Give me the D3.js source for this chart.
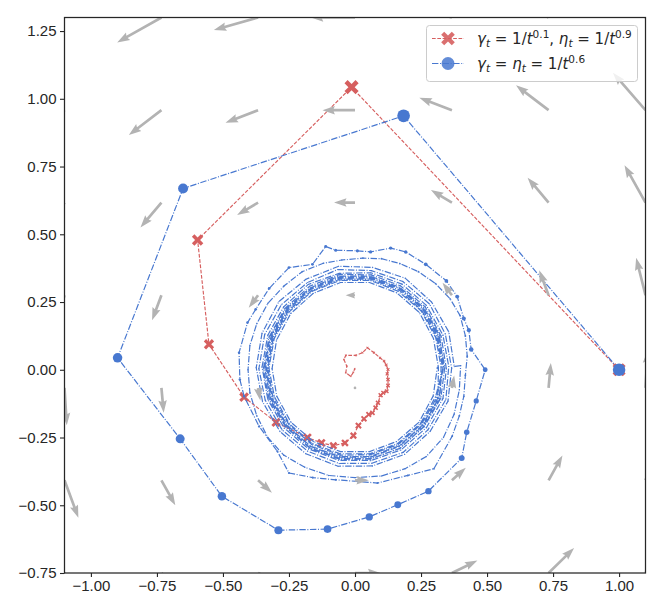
<!DOCTYPE html>
<html>
<head>
<meta charset="utf-8">
<script src="https://cdn.jsdelivr.net/npm/d3@7"></script>
<style>
  body { margin: 0; background: #fff; }
</style>
</head>
<body>
<div id="chart"></div>
<script>
// ---- data ----
var xTicks = [-1.0, -0.75, -0.5, -0.25, 0.0, 0.25, 0.5, 0.75, 1.0];
var yTicks = [-0.75, -0.5, -0.25, 0.0, 0.25, 0.5, 0.75, 1.0, 1.25];

// quiver grid (7x7) and the field vectors at each node
var gridX = [-1.1, -0.733, -0.367, 0.0, 0.367, 0.733, 1.1];
var gridY = [-0.75, -0.408, -0.067, 0.275, 0.617, 0.958, 1.3];
var fieldU = [
  [0.75, 0.75, 0.75, 0.75, 0.75, 0.75, 0.75],
  [0.408, 0.408, 0.408, 0.408, 0.408, 0.408, 0.408],
  [0.067, 0.067, 0.067, 0.067, 0.067, 0.067, 0.067],
  [-0.275, -0.275, -0.275, -0.275, -0.275, -0.275, -0.275],
  [-0.617, -0.617, -0.617, -0.617, -0.617, -0.617, -0.617],
  [-0.958, -0.958, -0.958, -0.958, -0.958, -0.958, -0.958],
  [-1.3, -1.3, -1.3, -1.3, -1.3, -1.3, -1.3]
];
var fieldV = [
  [-1.1, -0.733, -0.367, 0.0, 0.367, 0.733, 1.1],
  [-1.1, -0.733, -0.367, 0.0, 0.367, 0.733, 1.1],
  [-1.1, -0.733, -0.367, 0.0, 0.367, 0.733, 1.1],
  [-1.1, -0.733, -0.367, 0.0, 0.367, 0.733, 1.1],
  [-1.1, -0.733, -0.367, 0.0, 0.367, 0.733, 1.1],
  [-1.1, -0.733, -0.367, 0.0, 0.367, 0.733, 1.1],
  [-1.1, -0.733, -0.367, 0.0, 0.367, 0.733, 1.1]
];

// red run: gamma_t = 1/t^0.1, eta_t = 1/t^0.9
var redX = [1.0, -0.013, -0.596, -0.553, -0.42, -0.299, -0.18, -0.127, -0.082, -0.038,
  -0.006, 0.013, 0.034, 0.052, 0.066, 0.078, 0.087, 0.097, 0.107, 0.12,
  0.125, 0.125, 0.122, 0.125, 0.118, 0.11, 0.095, 0.072, 0.047, 0.028,
  0.003, -0.035, -0.042, -0.031, -0.035, -0.016, -0.006, -0.001];
var redY = [0.0, 1.043, 0.479, 0.094, -0.101, -0.194, -0.25, -0.27, -0.28, -0.27,
  -0.243, -0.206, -0.181, -0.165, -0.159, -0.14, -0.122, -0.094, -0.085, -0.079,
  -0.058, -0.036, -0.015, 0.001, 0.018, 0.032, 0.044, 0.063, 0.081, 0.063,
  0.053, 0.053, 0.038, 0.013, -0.011, -0.024, -0.009, 0.004];

// blue run: gamma_t = eta_t = 1/t^0.6
var blueX = [
  1.0, 0.184, -0.651, -0.899, -0.662, -0.504, -0.29, -0.104, 0.054, 0.162,
  0.278, 0.404, 0.423, 0.459, 0.493, 0.44, 0.431, 0.412, 0.387, 0.346,
  0.268, 0.192, 0.135, 0.059, 0.009, -0.073, -0.111, -0.161, -0.25, -0.325,
  -0.376, -0.407, -0.439, -0.436, -0.42, -0.363, -0.294, -0.25, -0.16, -0.073,
  0.01, 0.085, 0.2, 0.299, 0.368, 0.395, 0.412, 0.418, 0.425, 0.418,
  0.398, 0.36, 0.305, 0.24, 0.17, 0.1, 0.03, -0.05, -0.12, -0.2,
  -0.268, -0.33, -0.372, -0.398, -0.405, -0.398, -0.372, -0.33, -0.27, -0.19,
  -0.1, 0.0, 0.1, 0.19, 0.27, 0.335, 0.375, 0.395, 0.4,
  0.376, 0.355, 0.29, 0.19, 0.066, -0.062, -0.186, -0.288, -0.352, -0.374, -0.35, -0.284, -0.186, -0.064, 0.066, 0.188, 0.284, 0.352,
  0.366, 0.342, 0.282, 0.181, 0.062, -0.065, -0.18, -0.279, -0.342, -0.364, -0.34, -0.276, -0.18, -0.06, 0.064, 0.182, 0.276, 0.344,
  0.355, 0.333, 0.27, 0.178, 0.06, -0.06, -0.177, -0.27, -0.33, -0.352, -0.33, -0.268, -0.176, -0.062, 0.06, 0.174, 0.27, 0.333,
  0.346, 0.326, 0.266, 0.172, 0.062, -0.058, -0.172, -0.265, -0.326, -0.347, -0.325, -0.262, -0.17, -0.058, 0.058, 0.17, 0.262, 0.325,
  0.34, 0.318, 0.258, 0.17, 0.058, -0.06, -0.168, -0.258, -0.318, -0.338, -0.318, -0.258, -0.168, -0.058, 0.058, 0.168, 0.258, 0.318,
  0.332, 0.31, 0.252, 0.166, 0.056, -0.058, -0.164, -0.252, -0.31, -0.33, -0.31, -0.25, -0.164, -0.056, 0.056, 0.164, 0.252, 0.31,
  0.336, 0.32, 0.262, 0.17, 0.06, -0.06, -0.17, -0.262, -0.322, -0.342, -0.32, -0.26, -0.17, -0.06, 0.06, 0.17, 0.26, 0.322,
  0.326, 0.306, 0.25, 0.163, 0.057, -0.056, -0.162, -0.248, -0.306, -0.326, -0.305, -0.248, -0.162, -0.056, 0.056, 0.162, 0.248, 0.305,
  0.334, 0.314, 0.256, 0.168, 0.058, -0.058, -0.168, -0.256, -0.314, -0.334, -0.314, -0.256, -0.168, -0.058, 0.058, 0.168, 0.256, 0.314,
  0.316, 0.297, 0.243, 0.158, 0.055, -0.055, -0.158, -0.243, -0.297, -0.314, -0.296, -0.242, -0.157, -0.055, 0.055, 0.157, 0.242, 0.296,
  0.312];
var blueY = [
  0.0, 0.937, 0.669, 0.044, -0.255, -0.467, -0.592, -0.588, -0.543, -0.498,
  -0.448, -0.326, -0.231, -0.115, 0.0, 0.075, 0.146, 0.189, 0.27, 0.328,
  0.389, 0.435, 0.449, 0.435, 0.439, 0.441, 0.455, 0.389, 0.377, 0.3,
  0.223, 0.174, 0.063, -0.036, -0.098, -0.209, -0.301, -0.381, -0.398, -0.406,
  -0.412, -0.418, -0.39, -0.365, -0.245, -0.17, -0.098, -0.02, 0.05, 0.125,
  0.2, 0.262, 0.318, 0.362, 0.392, 0.41, 0.412, 0.405, 0.393, 0.362,
  0.31, 0.245, 0.17, 0.09, 0.0, -0.085, -0.17, -0.25, -0.315, -0.36,
  -0.39, -0.398, -0.392, -0.365, -0.32, -0.25, -0.165, -0.075, 0.015,
  0.012, 0.14, 0.25, 0.338, 0.378, 0.382, 0.334, 0.252, 0.135, 0.008, -0.118, -0.228, -0.31, -0.356, -0.355, -0.312, -0.228, -0.116,
  0.006, 0.132, 0.243, 0.326, 0.366, 0.37, 0.322, 0.24, 0.13, 0.004, -0.112, -0.222, -0.3, -0.346, -0.345, -0.305, -0.222, -0.11,
  0.012, 0.128, 0.238, 0.316, 0.358, 0.356, 0.315, 0.232, 0.128, 0.01, -0.11, -0.215, -0.292, -0.334, -0.335, -0.296, -0.214, -0.106,
  0.004, 0.124, 0.232, 0.31, 0.35, 0.352, 0.308, 0.227, 0.12, 0.003, -0.11, -0.212, -0.29, -0.33, -0.33, -0.29, -0.21, -0.105,
  0.01, 0.122, 0.226, 0.3, 0.342, 0.342, 0.3, 0.222, 0.118, 0.008, -0.108, -0.208, -0.283, -0.322, -0.323, -0.283, -0.206, -0.104,
  0.006, 0.12, 0.22, 0.295, 0.335, 0.334, 0.292, 0.218, 0.116, 0.004, -0.104, -0.203, -0.276, -0.315, -0.314, -0.276, -0.2, -0.102,
  0.012, 0.126, 0.228, 0.304, 0.345, 0.346, 0.302, 0.224, 0.12, 0.006, -0.11, -0.21, -0.288, -0.326, -0.328, -0.29, -0.21, -0.106,
  0.01, 0.118, 0.218, 0.29, 0.33, 0.33, 0.29, 0.215, 0.115, 0.006, -0.1, -0.2, -0.272, -0.31, -0.31, -0.272, -0.198, -0.1,
  0.008, 0.122, 0.224, 0.3, 0.338, 0.338, 0.296, 0.22, 0.116, 0.004, -0.106, -0.206, -0.282, -0.32, -0.32, -0.28, -0.204, -0.104,
  0.008, 0.116, 0.212, 0.284, 0.322, 0.322, 0.282, 0.208, 0.11, 0.004, -0.098, -0.194, -0.265, -0.302, -0.302, -0.265, -0.194, -0.097,
  0.01];

// ---- drawing ----
var width = 664, height = 613;
var red = "#d65f5f", blue = "#4878d0", ink = "#262626";

var x = d3.scaleLinear().domain([-1.1, 1.1]).range([64.5, 645.5]);
var y = d3.scaleLinear().domain([-0.75, 1.3]).range([573, 17.5]);

// marker size (px) shrinks with iteration index
var redSize = d3.scaleLinear()
  .domain([0, 1, 2, 3, 6, 10, 14, 20, 26, 32])
  .range([12, 13, 10.5, 9.5, 8, 6.5, 5, 4, 2.5, 1.8]).clamp(true);
var blueSize = d3.scaleLinear()
  .domain([0, 1, 2, 5, 8, 12, 16, 25, 40, 80])
  .range([12.5, 12.7, 10, 8.5, 7.3, 5.5, 4.2, 3, 2, 1.2]).clamp(true);

var svg = d3.select("#chart").append("svg")
  .attr("width", width)
  .attr("height", height);

svg.append("defs").append("clipPath").attr("id", "plotclip")
  .append("rect")
  .attr("x", x.range()[0]).attr("y", y.range()[1])
  .attr("width", x.range()[1] - x.range()[0])
  .attr("height", y.range()[0] - y.range()[1]);

var plot = svg.append("g").attr("clip-path", "url(#plotclip)");

// X shaped marker like matplotlib "X"
function xMarker(s) {
  var e = s * 0.6, a = s * 0.17;
  var pts = [[-a,-e],[a,-e],[a,-a],[e,-a],[e,a],[a,a],[a,e],[-a,e],[-a,a],[-e,a],[-e,-a],[-a,-a]];
  var c = Math.SQRT1_2;
  return "M" + pts.map(function(p) {
    return [(p[0] - p[1]) * c, (p[0] + p[1]) * c].join(",");
  }).join("L") + "Z";
}

var line = d3.line().x(function(d) { return x(d[0]); }).y(function(d) { return y(d[1]); });

var redPts = redX.map(function(v, i) { return [v, redY[i]]; });
var bluePts = blueX.map(function(v, i) { return [v, blueY[i]]; });

// red trajectory
plot.append("path")
  .datum(redPts)
  .attr("d", line)
  .attr("fill", "none")
  .attr("stroke", red)
  .attr("stroke-width", 1.15)
  .attr("stroke-dasharray", "3.7,1.6");

plot.selectAll(".redmark")
  .data(redPts)
  .enter().append("path")
  .attr("class", "redmark")
  .attr("transform", function(d) { return "translate(" + x(d[0]) + "," + y(d[1]) + ")"; })
  .attr("d", function(d, i) { return xMarker(redSize(i)); })
  .attr("fill", red);

// blue trajectory
plot.append("path")
  .datum(bluePts)
  .attr("d", line)
  .attr("fill", "none")
  .attr("stroke", blue)
  .attr("stroke-width", 1.2)
  .attr("stroke-dasharray", "6.4,1.6,1,1.6");

plot.selectAll(".bluemark")
  .data(bluePts)
  .enter().append("circle")
  .attr("class", "bluemark")
  .attr("cx", function(d) { return x(d[0]); })
  .attr("cy", function(d) { return y(d[1]); })
  .attr("r", function(d, i) { return blueSize(i) / 2; })
  .attr("fill", blue);

// quiver arrows (tail at grid node)
var arrowScale = 34;       // px per unit of field magnitude
var shaftW = 2.7, headW = 8.5, headL = 12.5, headAx = 11.2;
var arrows = [];
gridY.forEach(function(gy, j) {
  gridX.forEach(function(gx, i) {
    arrows.push({ x: gx, y: gy, u: fieldU[j][i], v: fieldV[j][i] });
  });
});

function arrowPath(L) {
  if (L < shaftW) {
    var r = shaftW / 2;
    return "M" + (-r) + ",0A" + r + "," + r + " 0 1,0 " + r + ",0A" + r + "," + r + " 0 1,0 " + (-r) + ",0Z";
  }
  var s = L < headL ? L / headL : 1;
  var w = shaftW * s / 2, hw = headW * s / 2, hl = headL * s, ha = headAx * s;
  return "M0," + (-w) + "L" + (L - ha) + "," + (-w) + "L" + (L - hl) + "," + (-hw) +
    "L" + L + ",0L" + (L - hl) + "," + hw + "L" + (L - ha) + "," + w + "L0," + w + "Z";
}

plot.selectAll(".arrow")
  .data(arrows)
  .enter().append("path")
  .attr("class", "arrow")
  .attr("transform", function(d) {
    var ang = Math.atan2(-d.v, d.u) * 180 / Math.PI;
    return "translate(" + x(d.x) + "," + y(d.y) + ") rotate(" + ang + ")";
  })
  .attr("d", function(d) { return arrowPath(arrowScale * Math.hypot(d.u, d.v)); })
  .attr("fill", "#b3b3b3");

// axes
var fmt = d3.format(".2f");
var xAxis = svg.append("g")
  .attr("transform", "translate(0," + y.range()[0] + ")")
  .call(d3.axisBottom(x).tickValues(xTicks).tickFormat(fmt).tickSize(4).tickPadding(3.5));
var yAxis = svg.append("g")
  .attr("transform", "translate(" + x.range()[0] + ",0)")
  .call(d3.axisLeft(y).tickValues(yTicks).tickFormat(fmt).tickSize(4.5).tickPadding(3.5));

[xAxis, yAxis].forEach(function(ax) {
  ax.select(".domain").remove();
  ax.selectAll(".tick line").attr("stroke", ink).attr("stroke-width", 1.1);
  ax.selectAll(".tick text")
    .attr("fill", ink)
    .style("font-family", "'Liberation Sans', Arial, sans-serif")
    .style("font-size", "15px");
});

// frame
svg.append("rect")
  .attr("x", x.range()[0]).attr("y", y.range()[1])
  .attr("width", x.range()[1] - x.range()[0])
  .attr("height", y.range()[0] - y.range()[1])
  .attr("fill", "none")
  .attr("stroke", ink)
  .attr("stroke-width", 1.25);

// legend
var lg = svg.append("g");
lg.append("rect")
  .attr("x", 426.5).attr("y", 25.5)
  .attr("width", 211).attr("height", 56)
  .attr("rx", 3)
  .attr("fill", "white").attr("fill-opacity", 0.8)
  .attr("stroke", "#cccccc").attr("stroke-width", 1);

function mathText(g, xPos, yPos, parts) {
  var t = g.append("text")
    .attr("x", xPos).attr("y", yPos)
    .attr("fill", ink)
    .style("font-family", "'DejaVu Sans', sans-serif")
    .style("font-size", "15px");
  var shift = 0;
  parts.forEach(function(p) {
    var target = p.sub ? 3.5 : (p.sup ? -6 : 0);
    var ts = t.append("tspan")
      .attr("dy", target - shift)
      .text(p.t);
    if (p.it) ts.style("font-style", "italic");
    if (p.sub || p.sup) ts.style("font-size", "10.5px");
    shift = target;
  });
}

var legendRows = [
  { color: red, marker: "x", y: 38.5, parts: [
    { t: "γ", it: true }, { t: "t", it: true, sub: true }, { t: " = 1/" }, { t: "t", it: true }, { t: "0.1", sup: true },
    { t: ", " }, { t: "η", it: true }, { t: "t", it: true, sub: true }, { t: " = 1/" }, { t: "t", it: true }, { t: "0.9", sup: true }
  ], dash: "3.7,1.6" },
  { color: blue, marker: "o", y: 63.5, parts: [
    { t: "γ", it: true }, { t: "t", it: true, sub: true }, { t: " = " }, { t: "η", it: true }, { t: "t", it: true, sub: true },
    { t: " = 1/" }, { t: "t", it: true }, { t: "0.6", sup: true }
  ], dash: "6.4,1.6,1,1.6" }
];

legendRows.forEach(function(r) {
  lg.append("line")
    .attr("x1", 432).attr("x2", 464)
    .attr("y1", r.y).attr("y2", r.y)
    .attr("stroke", r.color).attr("stroke-width", 1)
    .attr("stroke-dasharray", r.dash);
  if (r.marker === "x") {
    lg.append("path")
      .attr("transform", "translate(448," + r.y + ")")
      .attr("d", xMarker(12.5))
      .attr("fill", r.color).attr("fill-opacity", 0.9);
  } else {
    lg.append("circle")
      .attr("cx", 448).attr("cy", r.y).attr("r", 6.5)
      .attr("fill", r.color).attr("fill-opacity", 0.85);
  }
  mathText(lg, 477, r.y + 5, r.parts);
});
</script>
</body>
</html>
